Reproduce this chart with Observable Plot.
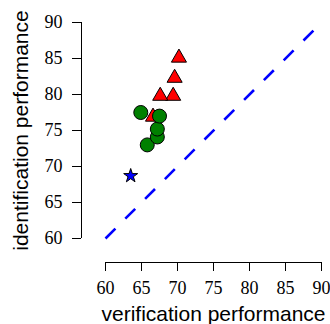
<!DOCTYPE html>
<html>
<head>
<meta charset="utf-8">
<script src="https://cdn.jsdelivr.net/npm/d3@7"></script>
<script src="https://cdn.jsdelivr.net/npm/@observablehq/plot@0.6"></script>
<style>
  html, body { margin: 0; padding: 0; background: #fff; }
  #chart svg { display: block; }
</style>
</head>
<body>
<div id="chart"></div>
<script>
// Tick values
const xTicks = [60, 65, 70, 75, 80, 85, 90];
const yTicks = [60, 65, 70, 75, 80, 85, 90];

// Axis titles
const xTitle = "verification performance";
const yTitle = "identification performance";

// Red triangles
const triX = [70.2, 69.6, 69.4, 67.6, 66.6];
const triY = [85.1, 82.3, 79.8, 79.8, 76.9];

// Green circles
const circX = [64.9, 65.8, 67.2, 67.2, 67.5];
const circY = [77.5, 73.0, 74.1, 75.2, 77.0];

// Blue star
const starX = [63.5];
const starY = [68.7];

// Diagonal reference (y = x)
const diag = [60, 90];

const tri = triX.map((x, i) => ({x, y: triY[i]}));
const circ = circX.map((x, i) => ({x, y: circY[i]}));
const star = starX.map((x, i) => ({x, y: starY[i]}));

const xMin = d3.min(xTicks), xMax = d3.max(xTicks);
const yMin = d3.min(yTicks), yMax = d3.max(yTicks);
const gap = 24;

const chart = Plot.plot({
  width: 330,
  height: 324,
  marginLeft: 81,
  marginRight: 9,
  marginTop: 22,
  marginBottom: 62,
  style: {background: "#fff", color: "black", overflow: "visible"},
  x: {domain: [xMin, xMax], insetLeft: gap},
  y: {domain: [yMin, yMax], insetBottom: gap},
  marks: [
    Plot.axisX({ticks: xTicks, tickSize: 9, tickPadding: 10, tickFormat: d => String(d),
      fontFamily: "Liberation Serif", fontSize: 18, label: null}),
    Plot.axisY({ticks: yTicks, tickSize: 9, tickPadding: 10, tickFormat: d => String(d),
      fontFamily: "Liberation Serif", fontSize: 18, label: null}),
    // axis lines spanning only the tick range
    Plot.ruleX([xMin], {y1: yMin, y2: yMax, dx: -gap, stroke: "black", strokeWidth: 1}),
    Plot.ruleY([yMin], {x1: xMin, x2: xMax, dy: gap, stroke: "black", strokeWidth: 1}),
    // dashed diagonal
    Plot.line(diag, {x: d => d, y: d => d, stroke: "#0000ff", strokeWidth: 2.6,
      strokeDasharray: "14,14", strokeLinecap: "butt"}),
    Plot.dot(tri, {x: "x", y: "y", symbol: "triangle", r: 5.6, fill: "#ff0000", stroke: "black", strokeWidth: 1}),
    Plot.dot(circ, {x: "x", y: "y", symbol: "circle", r: 7, fill: "#008000", stroke: "black", strokeWidth: 1}),
    Plot.dot(star, {x: "x", y: "y", symbol: "star", r: 4.4, fill: "#0000ff", stroke: "black", strokeWidth: 1}),
    // axis titles
    Plot.text([xTitle], {text: d => d, x: () => d3.mean(xTicks), frameAnchor: "bottom", dy: 52,
      textAnchor: "middle", lineAnchor: "middle",
      fontFamily: "Liberation Sans", fontSize: 21, fill: "black"}),
    Plot.text([yTitle], {text: d => d, y: () => d3.mean(yTicks), frameAnchor: "left", dx: -60.7, rotate: -90,
      textAnchor: "middle", lineAnchor: "middle",
      fontFamily: "Liberation Sans", fontSize: 21, fill: "black"})
  ]
});

document.getElementById("chart").appendChild(chart);
</script>
</body>
</html>
